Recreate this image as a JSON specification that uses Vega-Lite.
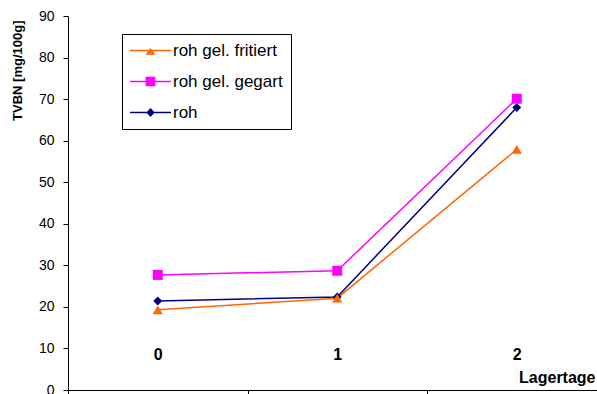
{
  "$schema": "https://vega.github.io/schema/vega-lite/v6.json",
  "width": 529,
  "height": 374,
  "autosize": {"type": "none"},
  "padding": {"left": 68, "top": 16, "right": 0, "bottom": 4},
  "background": "white",
  "config": {
    "view": {"stroke": null},
    "font": "Liberation Sans",
    "axis": {"grid": false, "domainColor": "#000", "tickColor": "#000", "labelColor": "#000", "titleColor": "#000", "domainWidth": 1, "tickWidth": 1}
  },
  "data": {
    "values": [
      {"series": "roh", "day": "0", "tvbn": 21.4},
      {"series": "roh", "day": "1", "tvbn": 22.4},
      {"series": "roh", "day": "2", "tvbn": 68.0},
      {"series": "roh gel. gegart", "day": "0", "tvbn": 27.7},
      {"series": "roh gel. gegart", "day": "1", "tvbn": 28.7},
      {"series": "roh gel. gegart", "day": "2", "tvbn": 70.1},
      {"series": "roh gel. fritiert", "day": "0", "tvbn": 19.3},
      {"series": "roh gel. fritiert", "day": "1", "tvbn": 22.1},
      {"series": "roh gel. fritiert", "day": "2", "tvbn": 57.9}
    ]
  },
  "encoding": {
    "x": {
      "field": "day",
      "type": "ordinal",
      "bandPosition": 0.5,
      "scale": {"type": "band", "range": [0, 538.5], "paddingInner": 0, "paddingOuter": 0},
      "axis": {
        "labelAngle": 0,
        "labelFontSize": 16,
        "labelFontWeight": "bold",
        "labelPadding": -41,
        "labelBaseline": "middle",
        "tickBand": "extent",
        "tickSize": 5,
        "title": "Lagertage",
        "titleFontSize": 16,
        "titleFontWeight": "bold",
        "titleX": 527,
        "titleY": -13,
        "titleAlign": "right",
        "titleBaseline": "middle",
        "titleAnchor": null
      }
    },
    "y": {
      "field": "tvbn",
      "type": "quantitative",
      "scale": {"domain": [0, 90], "nice": false, "zero": true},
      "axis": {
        "values": [0, 10, 20, 30, 40, 50, 60, 70, 80, 90],
        "labelFontSize": 14,
        "labelPadding": 9,
        "tickSize": 5,
        "title": "TVBN [mg/100g]",
        "titleFontSize": 13,
        "titleFontWeight": "bold",
        "titleAngle": -90,
        "titleX": -51,
        "titleY": 4,
        "titleAlign": "right",
        "titleBaseline": "middle"
      }
    }
  },
  "layer": [
    {
      "description": "Carries the legend only: each key is a line with the series marker on it. The filter keeps no rows, the fixed scale domains keep all three keys.",
      "transform": [{"filter": "datum.series === 'none'"}],
      "mark": {"type": "point", "filled": true, "opacity": 1},
      "encoding": {
        "color": {
          "field": "series",
          "type": "nominal",
          "scale": {
            "domain": ["roh gel. fritiert", "roh gel. gegart", "roh"],
            "range": ["#FF6600", "#FF00FF", "#000080"]
          },
          "legend": {
            "orient": "none",
            "legendX": 54,
            "legendY": 18,
            "title": null,
            "strokeColor": "#000",
            "fillColor": "#fff",
            "padding": 8,
            "rowPadding": 13,
            "labelFontSize": 17,
            "labelFont": "Liberation Sans",
            "labelColor": "#000",
            "labelOffset": 14,
            "symbolOffset": 12,
            "symbolSize": 289,
            "symbolOpacity": 1,
            "symbolStrokeWidth": 0
          }
        },
        "shape": {
          "field": "series",
          "type": "nominal",
          "scale": {
            "domain": ["roh gel. fritiert", "roh gel. gegart", "roh"],
            "range": [
              "M-2.41,-0.085H2.41V0.085H-2.41Z M0,-0.3L0.59,0.5H-0.59Z",
              "M-2.41,-0.085H2.41V0.085H-2.41Z M-0.57,-0.57H0.57V0.57H-0.57Z",
              "M-2.41,-0.085H2.41V0.085H-2.41Z M0,-0.53L0.49,0L0,0.53L-0.49,0Z"
            ]
          }
        }
      }
    },
    {
      "mark": {"type": "line", "strokeWidth": 1.5},
      "encoding": {
        "color": {"field": "series", "type": "nominal", "legend": null}
      }
    },
    {
      "transform": [{"filter": "datum.series === 'roh'"}],
      "mark": {"type": "point", "filled": true, "opacity": 1, "size": 80, "shape": "diamond"},
      "encoding": {
        "color": {"field": "series", "type": "nominal", "legend": null}
      }
    },
    {
      "transform": [{"filter": "datum.series === 'roh gel. gegart'"}],
      "mark": {"type": "point", "filled": true, "opacity": 1, "size": 100, "shape": "square"},
      "encoding": {
        "color": {"field": "series", "type": "nominal", "legend": null}
      }
    },
    {
      "transform": [{"filter": "datum.series === 'roh gel. fritiert'"}],
      "mark": {"type": "point", "filled": true, "opacity": 1, "size": 100, "shape": "triangle-up"},
      "encoding": {
        "color": {"field": "series", "type": "nominal", "legend": null}
      }
    }
  ]
}
